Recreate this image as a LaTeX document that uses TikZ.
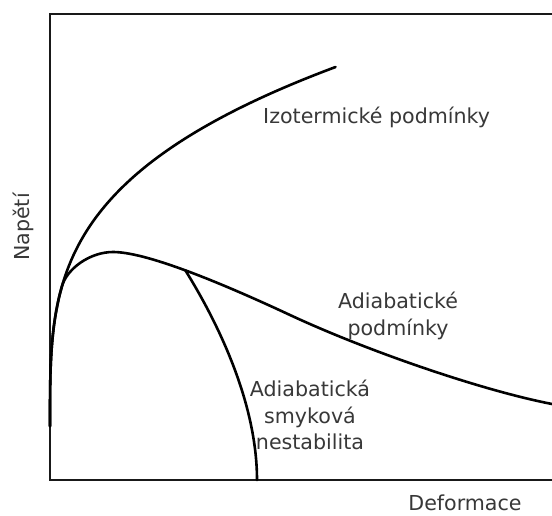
\documentclass[tikz,border=0pt]{standalone}
\usepackage{fontspec}
\setmainfont{DejaVu Sans}
\begin{document}
\begin{tikzpicture}[x=1pt,y=-1pt,
  axisline/.style={line width=2.3pt, black!90},
  curve/.style={line width=2.6pt, black, line cap=round},
  lbl/.style={inner sep=0pt, text=black!78, font=\fontsize{20.6}{24}\selectfont}]
\useasboundingbox[fill=white] (0,0) rectangle (552,516);
% frame / axes
\coordinate (tr) at (552,14);
\coordinate (tl) at (50,14);
\coordinate (bl) at (50,480);
\coordinate (br) at (552,480);
\draw[axisline] (tr) -- (tl) -- (bl) -- (br);
% isothermal curve
\draw[curve] plot[domain=0.01:5.334, samples=160, variable=\u]
  ({50+\u^3.378}, {427-67.5*\u});
% adiabatic curve
\draw[curve] plot[domain=0.01:2.087, samples=60, variable=\u]
  ({50+\u^3.378}, {427-67.5*\u})
  .. controls (67,268.6) and (90,252) .. (113,252)
  .. controls (145,252) and (215,280) .. coordinate[pos=0.5] (j) (290,315)
  .. controls (365,350) and (480,390) .. (552,404);
% adiabatic shear instability
\coordinate (e) at (257,480);
\draw[curve] (j) .. controls (215,318) and (257,400) .. (e);
% labels
\node[lbl, anchor=base west] (iso) at (263,124) {Izotermické podmínky};
\node[lbl, anchor=base] (ad1) at (398,308) {Adiabatické};
\node[lbl, anchor=base] (ad2) at (398,335) {podmínky};
\node[lbl, anchor=base] (in1) at (310,396) {Adiabatická};
\node[lbl, anchor=base] (in2) at (310,423) {smyková};
\node[lbl, anchor=base] (in3) at (310,449) {nestabilita};
\node[lbl, anchor=base, text depth=0pt] (xl) at (465,510) {Deformace};
\node[lbl, anchor=base, rotate=90] (yl) at (29,227) {Napětí};
\end{tikzpicture}
\end{document}
